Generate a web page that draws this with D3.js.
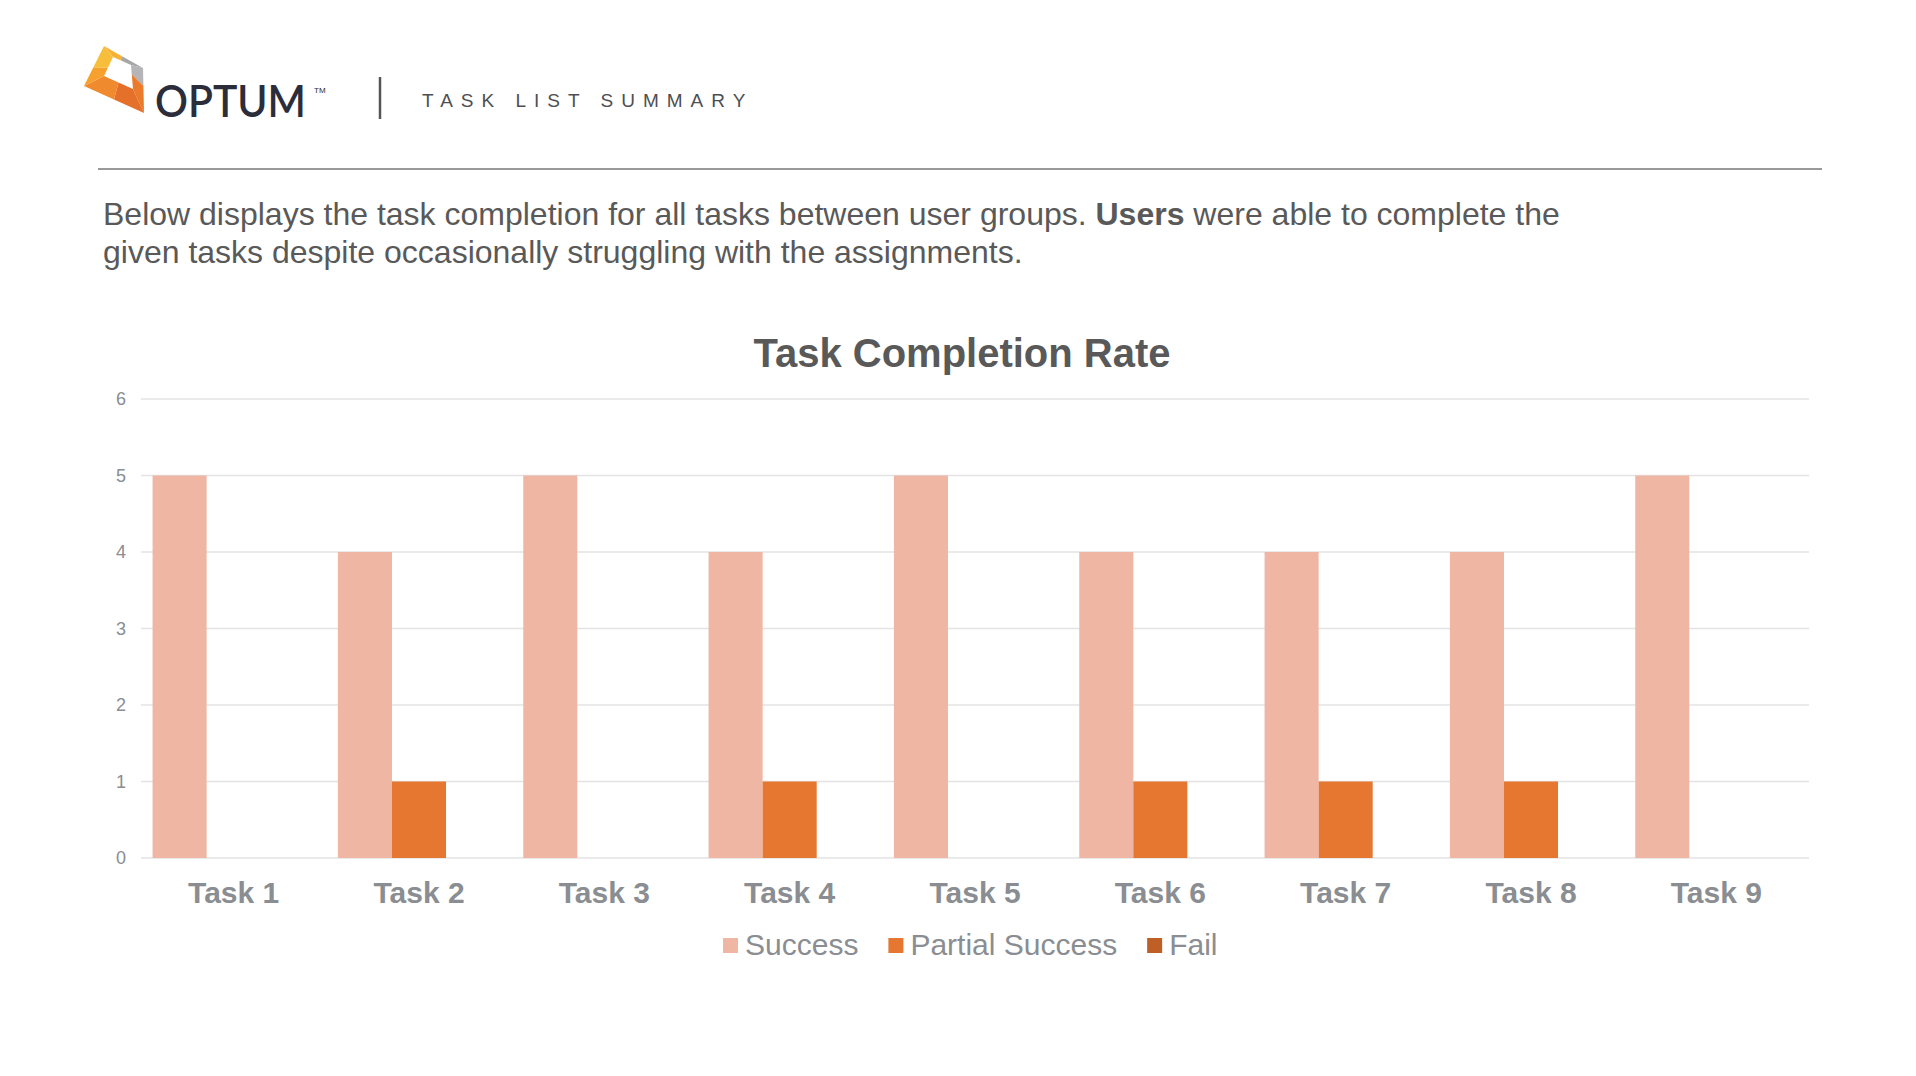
<!DOCTYPE html>
<html>
<head>
<meta charset="utf-8">
<script src="https://cdn.jsdelivr.net/npm/d3@7"></script>
<style>
  html, body { margin: 0; padding: 0; background: #fff; }
  svg { display: block; font-family: "Liberation Sans", Arial, Helvetica, sans-serif; }
</style>
</head>
<body>
<svg id="chart" width="1916" height="1076"></svg>
<script>
// ---- data ----
const categories = ["Task 1", "Task 2", "Task 3", "Task 4", "Task 5", "Task 6", "Task 7", "Task 8", "Task 9"];
const seriesNames = ["Success", "Partial Success", "Fail"];
const successValues = [5, 4, 5, 4, 5, 4, 4, 4, 5];
const partialValues = [0, 1, 0, 1, 0, 1, 1, 1, 0];
const failValues = [0, 0, 0, 0, 0, 0, 0, 0, 0];
const yTicks = [0, 1, 2, 3, 4, 5, 6];
const headerTitle = "TASK LIST SUMMARY";
const chartTitle = "Task Completion Rate";

const seriesColors = ["#EFB6A3", "#E67731", "#BE5F26"];
const seriesValues = [successValues, partialValues, failValues];

const svg = d3.select("#chart");

// ---- header: logo ----
const logo = svg.append("g");
const A = [104, 46], B = [143, 68], C = [144, 113], D = [84, 86];
const a = [113, 57], b = [131, 65], c = [133, 89], d = [104, 76];
const mid = (p, q, t) => [p[0] + (q[0] - p[0]) * t, p[1] + (q[1] - p[1]) * t];
const poly = (pts, fill) => logo.append("polygon").attr("points", pts.map(p => p.join(",")).join(" ")).attr("fill", fill);
// top piece
poly([A, mid(A, B, 0.45), mid(a, b, 0.45), a], "#F5B335");
poly([mid(A, B, 0.45), B, b, mid(a, b, 0.45)], "#A6A6A8");
// right piece
poly([B, mid(B, C, 0.4), mid(b, c, 0.4), b], "#B5B5B7");
poly([mid(B, C, 0.4), C, c, mid(b, c, 0.4)], "#EA7B2A");
// bottom piece
poly([C, mid(C, D, 0.5), mid(c, d, 0.5), c], "#E4702A");
poly([mid(C, D, 0.5), D, d, mid(c, d, 0.5)], "#F08A2E");
// left piece
poly([D, mid(D, A, 0.45), mid(d, a, 0.45), d], "#F6A02E");
poly([mid(D, A, 0.45), A, a, mid(d, a, 0.45)], "#F7BE3C");

svg.append("text")
  .attr("x", 155).attr("y", 117)
  .attr("font-family", "Lato, 'Open Sans', sans-serif")
  .attr("font-weight", 600)
  .attr("font-size", 44)
  .attr("fill", "#2C2D3A")
  .attr("textLength", 151)
  .attr("lengthAdjust", "spacingAndGlyphs")
  .text("OPTUM");
svg.append("text")
  .attr("x", 314).attr("y", 93)
  .attr("font-size", 8)
  .attr("fill", "#2C2D3A")
  .text("TM");

svg.append("line")
  .attr("x1", 380).attr("x2", 380).attr("y1", 77).attr("y2", 119)
  .attr("stroke", "#555").attr("stroke-width", 2.5);

svg.append("text")
  .attr("x", 422).attr("y", 107)
  .attr("font-size", 19)
  .attr("fill", "#4D4F53")
  .attr("letter-spacing", "8px")
  .text(headerTitle);

svg.append("line")
  .attr("x1", 98).attr("x2", 1822).attr("y1", 169).attr("y2", 169)
  .attr("stroke", "#9A9A9A").attr("stroke-width", 2);

// ---- paragraph ----
const para = svg.append("text")
  .attr("font-size", 32)
  .attr("fill", "#595959");
const l1 = para.append("tspan").attr("x", 103).attr("y", 225);
l1.append("tspan").text("Below displays the task completion for all tasks between user groups. ");
l1.append("tspan").attr("font-weight", "bold").text("Users");
l1.append("tspan").text(" were able to complete the");
para.append("tspan").attr("x", 103).attr("y", 263)
  .text("given tasks despite occasionally struggling with the assignments.");

// ---- chart ----
const plot = { left: 141, right: 1809, top: 399, bottom: 858 };

svg.append("text")
  .attr("x", 962).attr("y", 367)
  .attr("text-anchor", "middle")
  .attr("font-size", 40)
  .attr("font-weight", "bold")
  .attr("fill", "#595959")
  .text(chartTitle);

const x0 = d3.scaleBand().domain(categories).range([plot.left, plot.right]).paddingInner(0.125).paddingOuter(0.0625);
const x1 = d3.scaleBand().domain(seriesNames).range([0, x0.bandwidth()]);
const y = d3.scaleLinear().domain([0, 6]).range([plot.bottom, plot.top]);

// gridlines
svg.append("g")
  .selectAll("line")
  .data(yTicks)
  .join("line")
  .attr("x1", plot.left).attr("x2", plot.right)
  .attr("y1", d => y(d)).attr("y2", d => y(d))
  .attr("stroke", "#E3E3E3").attr("stroke-width", 1.6);

// y axis labels
const yAxis = svg.append("g")
  .attr("transform", `translate(${plot.left - 15},0)`)
  .call(d3.axisLeft(y).tickValues(yTicks).tickSize(0).tickPadding(0).tickFormat(d3.format("d")));
yAxis.select(".domain").remove();
yAxis.selectAll("text")
  .attr("font-size", 18)
  .attr("font-family", "'Liberation Sans', Arial, sans-serif")
  .attr("fill", "#8A8D91");

// bars
const groups = svg.append("g")
  .selectAll("g")
  .data(categories)
  .join("g")
  .attr("transform", d => `translate(${x0(d)},0)`);
groups.selectAll("rect")
  .data((cat, i) => seriesNames.map((s, j) => ({ s, v: seriesValues[j][i], c: seriesColors[j] })))
  .join("rect")
  .attr("x", d => x1(d.s))
  .attr("width", x1.bandwidth())
  .attr("y", d => y(d.v))
  .attr("height", d => y(0) - y(d.v))
  .attr("fill", d => d.c);

// x axis labels
const xAxis = svg.append("g")
  .attr("transform", `translate(0,${plot.bottom + 22})`)
  .call(d3.axisBottom(x0).tickSize(0).tickPadding(0));
xAxis.select(".domain").remove();
xAxis.selectAll("text")
  .attr("font-size", 30)
  .attr("font-weight", "bold")
  .attr("font-family", "'Liberation Sans', Arial, sans-serif")
  .attr("fill", "#8A8D91")
  .attr("dy", "0.75em");

// legend
const legend = svg.append("g");
let lx = 723;
seriesNames.forEach((s, i) => {
  legend.append("rect").attr("x", lx).attr("y", 938).attr("width", 15).attr("height", 15).attr("fill", seriesColors[i]);
  const t = legend.append("text").attr("x", lx + 22).attr("y", 955)
    .attr("font-size", 30).attr("fill", "#8A8D91").text(s);
  lx += 22 + t.node().getComputedTextLength() + 30;
});
</script>
</body>
</html>
